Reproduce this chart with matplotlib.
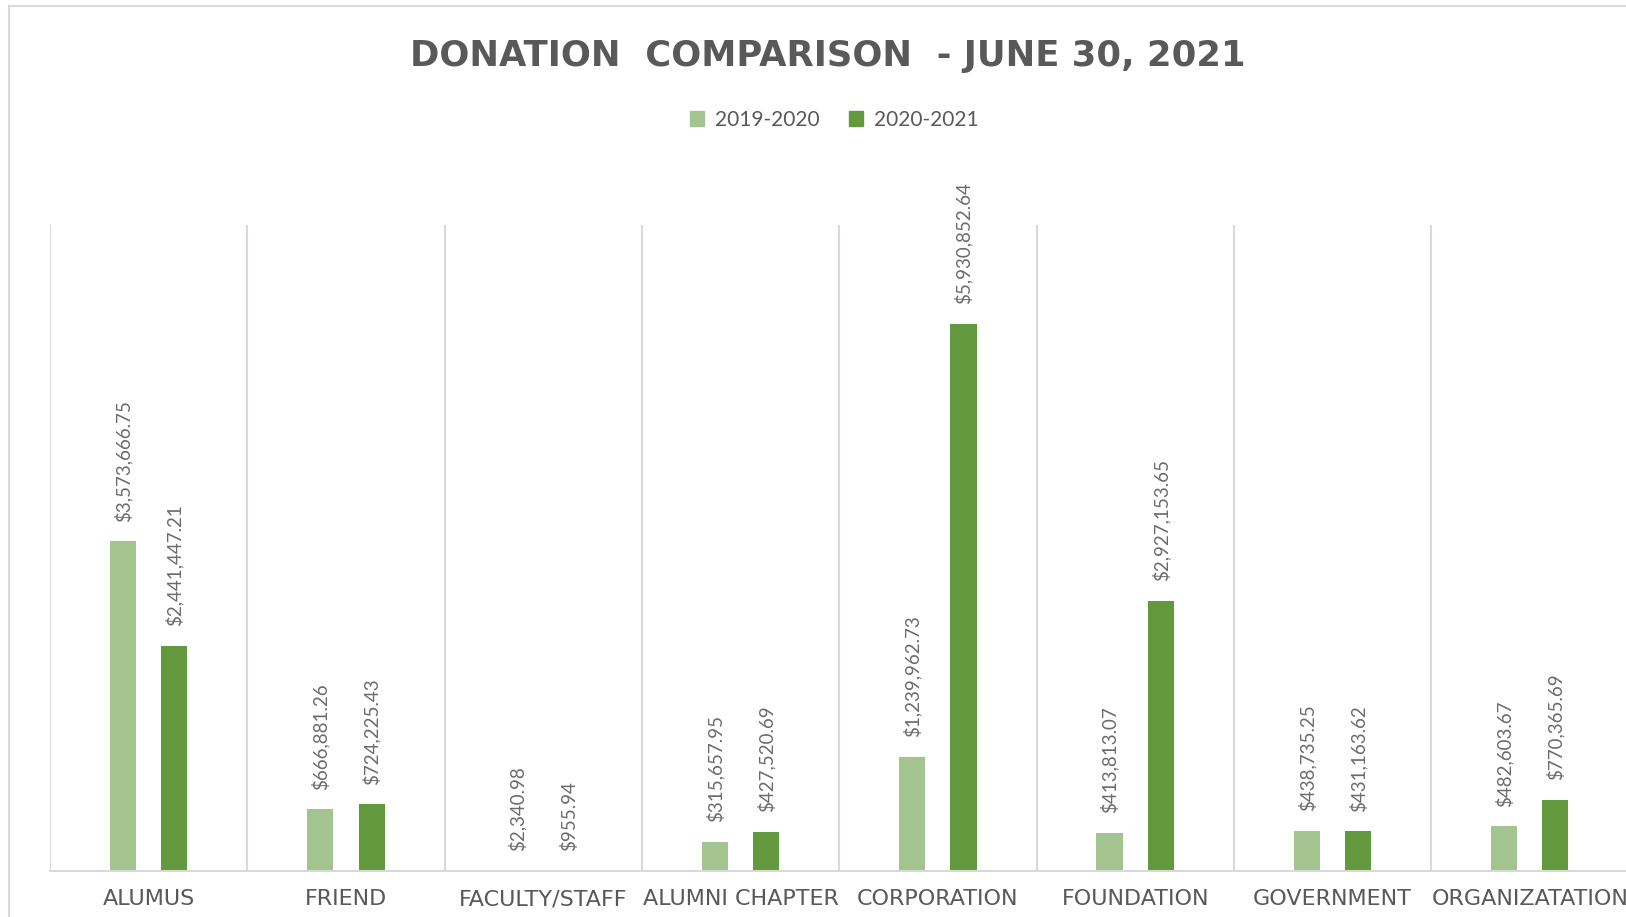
import matplotlib.pyplot as plt
from matplotlib.patches import Patch
from matplotlib.lines import Line2D
import numpy as np

# Dados
categorias = ['ALUMUS', 'FRIEND', 'FACULTY/STAFF', 'ALUMNI CHAPTER', 'CORPORATION',
              'FOUNDATION', 'GOVERNMENT', 'ORGANIZATATION']
doacoes_2019_2020 = [3573666.75, 666881.26, 2340.98, 315657.95, 1239962.73,
                     413813.07, 438735.25, 482603.67]
doacoes_2020_2021 = [2441447.21, 724225.43, 955.94, 427520.69, 5930852.64,
                     2927153.65, 431163.62, 770365.69]
series = ['2019-2020', '2020-2021']

cor_clara = '#a3c48e'
cor_escura = '#62993d'
cinza_texto = '#595959'
cinza_linha = '#d9d9d9'

W, H = 1626, 917
fig = plt.figure(figsize=(W / 100, H / 100), dpi=100)
ax = fig.add_axes([50 / W, 46 / H, 8 * 197.3 / W, 646 / H])

x = np.arange(len(categorias))
largura = 0.132
desloc = 0.13
b1 = ax.bar(x - desloc, doacoes_2019_2020, largura, color=cor_clara)
b2 = ax.bar(x + desloc, doacoes_2020_2021, largura, color=cor_escura)

for barras in (b1, b2):
    for b in barras:
        v = b.get_height()
        ax.annotate(f'${v:,.2f}', (b.get_x() + b.get_width() / 2, v),
                    xytext=(0, 14), textcoords='offset points',
                    rotation=90, ha='center', va='bottom',
                    fontsize=13.5, family='Lato', color='#6b6b6b')

ax.set_xlim(-0.5, len(categorias) - 0.5)
ax.set_ylim(0, 7000000)

# linhas divisórias entre categorias
for i in range(len(categorias) + 1):
    ax.axvline(i - 0.5, color=cinza_linha, lw=1.5, zorder=0)

for s in ['top', 'right', 'left']:
    ax.spines[s].set_visible(False)
ax.spines['bottom'].set_color(cinza_linha)
ax.spines['bottom'].set_linewidth(1.5)
ax.set_yticks([])
ax.set_xticks(x)
ax.set_xticklabels(categorias, fontsize=16, color=cinza_texto)
ax.tick_params(axis='x', length=0, pad=13)

# título e legenda
fig.text(828 / W, 1 - 56 / H, 'DONATION  COMPARISON  - JUNE 30, 2021',
         ha='center', va='center', fontsize=25.5, fontweight='bold', color=cinza_texto)

handles = [Patch(color=cor_clara), Patch(color=cor_escura)]
fig.legend(handles, series, loc='center', bbox_to_anchor=(834 / W, 1 - 120 / H),
           ncol=2, frameon=False, handlelength=0.7, handleheight=0.7,
           handletextpad=0.5, columnspacing=1.4,
           prop={'family': 'Lato', 'size': 15}, labelcolor=cinza_texto)

# borda externa do gráfico
fig.add_artist(Line2D([9 / W, 9 / W], [0, 1 - 6 / H], color=cinza_linha, lw=1.5))
fig.add_artist(Line2D([9 / W, 1], [1 - 6 / H, 1 - 6 / H], color=cinza_linha, lw=1.5))

plt.savefig('out.png', dpi=100)
